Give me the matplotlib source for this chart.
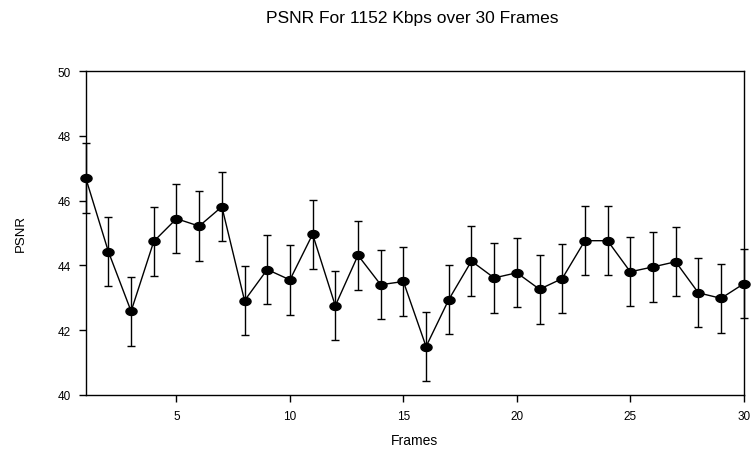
import matplotlib
matplotlib.use("Agg")
import matplotlib.pyplot as plt
import numpy as np
from matplotlib.path import Path

frames = list(range(1, 31))
psnr = [46.70, 44.42, 42.58, 44.74, 45.44, 45.21, 45.81, 42.91, 43.87, 43.55,
        44.96, 42.75, 44.31, 43.40, 43.50, 41.49, 42.94, 44.13, 43.61, 43.77,
        43.26, 43.59, 44.76, 44.76, 43.80, 43.95, 44.11, 43.15, 42.98, 43.43]
err = [1.07, 1.07, 1.07, 1.07, 1.07, 1.07, 1.07, 1.07, 1.07, 1.07,
       1.07, 1.07, 1.07, 1.07, 1.07, 1.07, 1.07, 1.07, 1.07, 1.07,
       1.07, 1.07, 1.07, 1.07, 1.07, 1.07, 1.07, 1.07, 1.07, 1.07]

plt.rcParams["font.family"] = ["Liberation Sans", "DejaVu Sans"]

# flattened ellipse marker like the original
t = np.linspace(0, 2 * np.pi, 40)
ellipse = Path(np.column_stack([np.cos(t), 0.72 * np.sin(t)]), closed=True)

fig = plt.figure(figsize=(7.52, 4.56), dpi=100)
ax = fig.add_axes([0.114, 0.132, 0.875, 0.710])

ax.errorbar(frames, psnr, yerr=err, color="black", linewidth=1.0,
            elinewidth=1.0, capsize=3.2, capthick=1.0,
            marker=ellipse, markersize=8, markerfacecolor="black",
            markeredgecolor="black", clip_on=False, zorder=3)

ax.set_xlim(1, 30)
ax.set_ylim(40, 50)
ax.set_xticks([5, 10, 15, 20, 25, 30])
ax.set_yticks([40, 42, 44, 46, 48, 50])
ax.tick_params(direction="out", length=5, width=1, labelsize=8.5, pad=6)

for s in ax.spines.values():
    s.set_linewidth(1.0)
    s.set_color("black")

ax.set_xlabel("Frames", fontsize=10, labelpad=8)
ax.set_ylabel("PSNR", fontsize=9.5, labelpad=22)
fig.text(0.548, 0.95, "PSNR For 1152 Kbps over 30 Frames", ha="center",
         va="baseline", fontsize=12.5)

fig.savefig("out.png", dpi=100)
